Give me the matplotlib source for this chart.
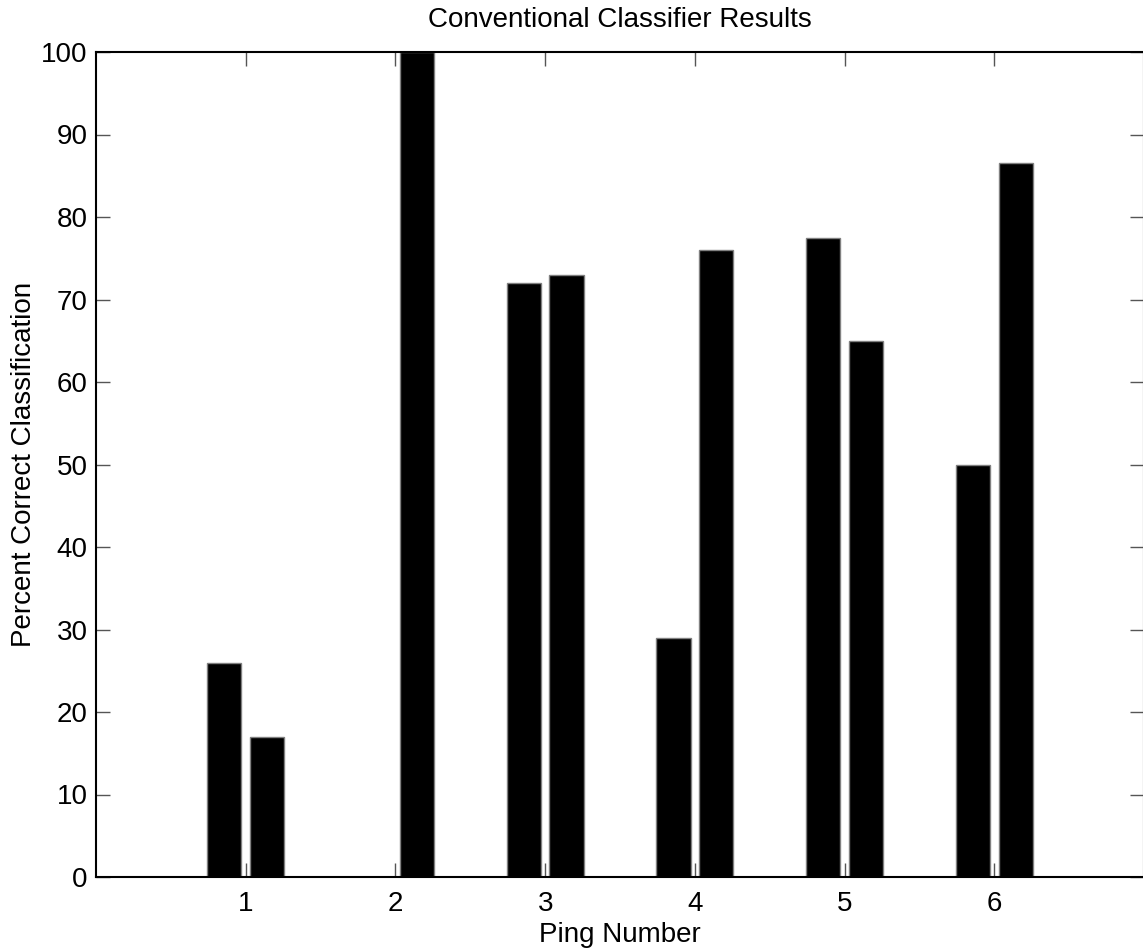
import numpy as np
import matplotlib
matplotlib.use("Agg")
import matplotlib.pyplot as plt

plt.rcParams['font.family'] = ['Liberation Sans', 'DejaVu Sans']

# percent correct per ping, two classifier runs per ping
pings = [1, 2, 3, 4, 5, 6]
run_a = [26, 0, 72, 29, 77.5, 50]
run_b = [17, 100, 73, 76, 65, 86.5]

fig = plt.figure(figsize=(11.43, 9.51), dpi=100)
ax = fig.add_axes([96/1143, 1 - 877/951, 1048/1143, 825/951])

x = np.array(pings)
# matlab style grouped bars: offset +-0.143, width 0.229
ax.bar(x - 0.143, run_a, width=0.229, color='black', edgecolor='#808080', linewidth=1)
ax.bar(x + 0.143, run_b, width=0.229, color='black', edgecolor='#808080', linewidth=1)

ax.set_xlim(0, 7)
ax.set_ylim(0, 100)
ax.set_xticks(pings)
ax.set_yticks(np.arange(0, 101, 10))
ax.tick_params(direction='in', length=10, width=1, color='#555555',
               top=True, right=True, labelsize=20)
ax.tick_params(axis='x', pad=10)
ax.tick_params(axis='y', pad=6)
for s in ax.spines.values():
    s.set_linewidth(1.5)
    s.set_color('black')

ax.set_xlabel("Ping Number", fontsize=20, labelpad=4)
ax.set_ylabel("Percent Correct Classification", fontsize=20, labelpad=3)
ax.set_title("Conventional Classifier Results", fontsize=20, pad=18)

fig.savefig("out.png", dpi=100)
